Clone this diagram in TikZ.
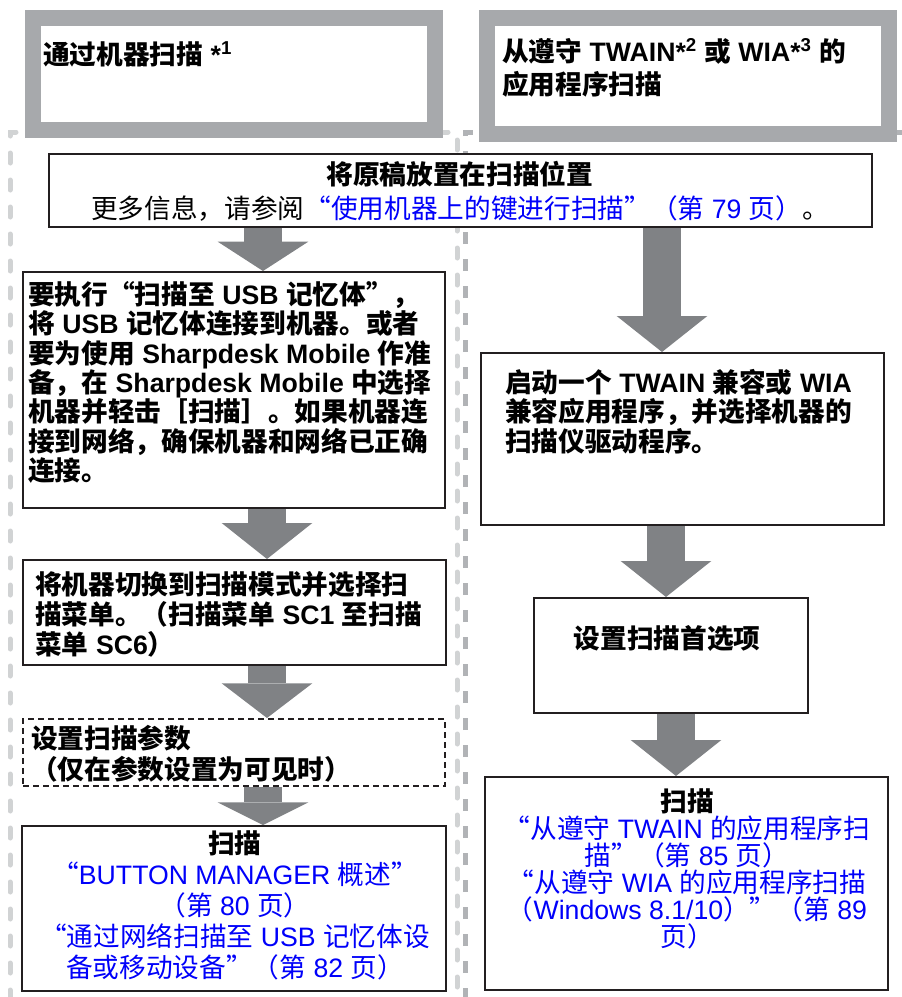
\documentclass[tikz,border=0pt]{standalone}
\usepackage{fontspec}
\setmainfont{Noto Sans CJK SC}
\newfontfamily\latfont{Liberation Sans}
\newcommand{\lat}[1]{{\latfont #1}}
\usetikzlibrary{arrows.meta,fit}

\definecolor{framegray}{HTML}{A7A9AC}
\definecolor{arrowgray}{HTML}{808285}
\definecolor{dashlight}{HTML}{D1D3D4}
\definecolor{dashdark}{HTML}{B1B3B6}
\definecolor{linkblue}{RGB}{0,0,250}
\definecolor{boxline}{HTML}{231F20}

\tikzset{
  stepbox/.style={draw=boxline, line width=1.5pt, fill=white, inner sep=0pt},
  optbox/.style={stepbox, dash pattern=on 4.5pt off 3pt},
  titleframe/.style={draw=framegray, line width=12pt, fill=white, inner sep=0pt},
  bigarrow/.style={draw=arrowgray, line width=28pt, -{Triangle[width=68pt,length=#1,line width=0pt]}},
  bigarrow/.default=27pt,
  steptext/.style={inner sep=0pt, font=\fontsize{20}{22}\selectfont\bfseries, align=left, anchor=north west},
  linktext/.style={inner sep=0pt, text=linkblue, font=\fontsize{20}{23.25}\selectfont, align=center, anchor=north},
}

\begin{document}
\begin{tikzpicture}[x=0.75pt,y=-0.75pt]
  \useasboundingbox (0,0) rectangle (901,997);

  % Column frames
  \draw[dashlight, line width=3.75pt, line cap=round, dash pattern=on 7.5pt off 12.75pt]
    (10,1000) -- (10,132) -- (457,132) -- (457,1000);
  \draw[dashdark, line width=3.75pt, dash pattern=on 9pt off 11.25pt]
    (465,1000) -- (465,132) -- (905,132);

  % Column titles
  \node[titleframe, fit={(33,18) (435,130)}] (ltitle) {};
  \node[titleframe, fit={(487,18) (889,134)}] (rtitle) {};
  \node[steptext] (ltitlet) at (43,41) {通过机器扫描\lat{ *\textsuperscript{1}}};
  \node[steptext, font=\fontsize{20}{24.75}\selectfont\bfseries] (rtitlet) at (502,38)
    {从遵守\lat{ TWAIN*\textsuperscript{2} }或\lat{ WIA*\textsuperscript{3} }的\\应用程序扫描};

  % Common step
  \node[stepbox, fit={(49,154) (872,227)}] (mid) {};
  \node[inner sep=0pt, align=center, anchor=north, font=\fontsize{20}{25.5}\selectfont] (midt) at (460,161)
    {{\bfseries 将原稿放置在扫描位置}\\更多信息，请参阅{\color{linkblue}“使用机器上的键进行扫描”（第\lat{ 79 }页）}。};

  % Left column
  \node[stepbox, fit={(23,272) (445,508)}] (b1) {};
  \node[steptext] (b1t) at (28,281)
    {要执行“扫描至\lat{ USB }记忆体”，\\
     将\lat{ USB }记忆体连接到机器。或者\\
     要为使用\lat{ Sharpdesk Mobile }作准\\
     备，在\lat{ Sharpdesk Mobile }中选择\\
     机器并轻击［扫描］。如果机器连\\
     接到网络，确保机器和网络已正确\\
     连接。};
  \node[stepbox, fit={(23,560) (446,665)}] (b2) {};
  \node[steptext, font=\fontsize{20}{22.5}\selectfont\bfseries] (b2t) at (35,571)
    {将机器切换到扫描模式并选择扫\\
     描菜单。（扫描菜单\lat{ SC1 }至扫描\\
     菜单\lat{ SC6}）};
  \node[optbox, fit={(23,719) (445,786)}] (b3) {};
  \node[steptext, font=\fontsize{20}{23.25}\selectfont\bfseries] (b3t) at (31,725)
    {设置扫描参数\\（仅在参数设置为可见时）};
  \node[stepbox, fit={(22,826) (446,991)}] (b4) {};
  \node[linktext] (b4t) at (235,830)
    {{\color{black}\bfseries 扫描}\\
     “\lat{BUTTON MANAGER }概述”\\
     （第\lat{ 80 }页）\\
     “通过网络扫描至\lat{ USB }记忆体设\\
     备或移动设备”（第\lat{ 82 }页）};

  % Right column
  \node[stepbox, fit={(481,353) (884,525)}] (r1) {};
  \node[steptext] (r1t) at (505,369)
    {启动一个\lat{ TWAIN }兼容或\lat{ WIA}\\
     兼容应用程序，并选择机器的\\
     扫描仪驱动程序。};
  \node[stepbox, fit={(534,598) (808,713)}] (r2) {};
  \node[inner sep=0pt, font=\fontsize{20}{22}\selectfont\bfseries] (r2t) at (667,638) {设置扫描首选项};
  \node[stepbox, fit={(485,777) (888,990)}] (r3) {};
  \node[linktext, font=\fontsize{20}{20.25}\selectfont] (r3t) at (687,788)
    {{\color{black}\bfseries 扫描}\\
     “从遵守\lat{ TWAIN }的应用程序扫\\
     描”（第\lat{ 85 }页）\\
     “从遵守\lat{ WIA }的应用程序扫描\\
     （\lat{Windows 8.1/10}）”（第\lat{ 89}\\
     页）};

  % Flow arrows
  \coordinate (la) at (263,0);
  \coordinate (lb) at (267,0);
  \coordinate (ra) at (662,0);
  \coordinate (rb) at (666,0);
  \coordinate (rc) at (676,0);
  \draw[bigarrow=22pt] (mid.south -| la) -- (b1.north -| la);
  \draw[bigarrow] (b1.south -| lb) -- (b2.north -| lb);
  \draw[bigarrow=26pt] (b2.south -| lb) -- (b3.north -| lb);
  \draw[bigarrow=17pt] (b3.south -| la) -- (b4.north -| la);
  \draw[bigarrow] (mid.south -| ra) -- (r1.north -| ra);
  \draw[bigarrow] (r1.south -| rb) -- (r2.north -| rb);
  \draw[bigarrow] (r2.south -| rc) -- (r3.north -| rc);
\end{tikzpicture}
\end{document}
